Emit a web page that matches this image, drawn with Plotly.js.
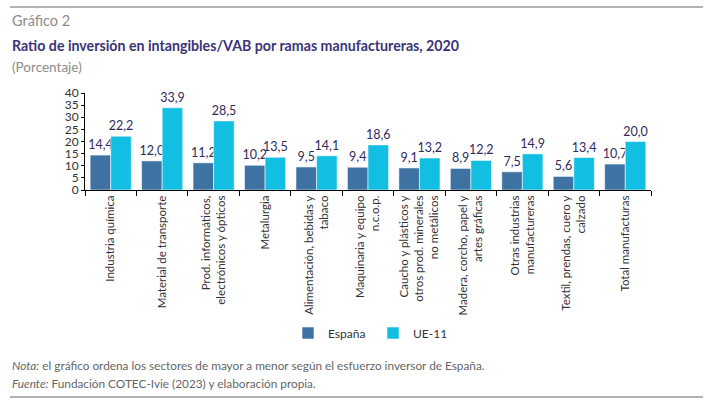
<!DOCTYPE html>
<html>
<head>
<meta charset="utf-8">
<script src="https://cdn.plot.ly/plotly-3.0.1.min.js"></script>
<style>
  html, body { margin: 0; padding: 0; background: #fff; }
  #graph { width: 710px; height: 403px; }
</style>
</head>
<body>
<div id="graph"></div>
<script>
const sectores = [
  'Industria química',
  'Material de transporte',
  'Prod. informáticos,<br>electrónicos y ópticos',
  'Metalurgia',
  'Alimentación, bebidas y<br>tabaco',
  'Maquinaria y equipo<br>n.c.o.p.',
  'Caucho y plásticos y<br>otros prod. minerales<br>no metálicos',
  'Madera, corcho, papel y<br>artes gráficas',
  'Otras industrias<br>manufactureras',
  'Textil, prendas, cuero y<br>calzado',
  'Total manufacturas'
];
const espana = [14.4, 12.0, 11.2, 10.2, 9.5, 9.4, 9.1, 8.9, 7.5, 5.6, 10.7];
const ue11 = [22.2, 33.9, 28.5, 13.5, 14.1, 18.6, 13.2, 12.2, 14.9, 13.4, 20.0];

const FONT = 'Lato, "Open Sans", sans-serif';

// plot area in pixels, used to place the page texts around it
const PL = 85, PR = 651, PT = 93, PB = 190;
const px = x => (x - PL) / (PR - PL);
const py = y => (PB - y) / (PB - PT);

function barTrace(name, values, color) {
  return {
    type: 'bar',
    name: name,
    x: sectores,
    y: values,
    marker: { color: color, line: { color: 'rgba(255,255,255,0.7)', width: 0.8 } },
    text: values.map(v => v.toFixed(1).replace('.', ',')),
    textposition: 'outside',
    constraintext: 'none',
    cliponaxis: false,
    textfont: { family: FONT, size: 12.5, color: '#2f2b5e' },
    hoverinfo: 'skip'
  };
}

const traces = [
  barTrace('España', espana, '#3d72a2'),
  barTrace('UE-11', ue11, '#13bee3')
];

const layout = {
  width: 710,
  height: 403,
  margin: { l: PL, r: 710 - PR, t: PT, b: 403 - PB, pad: 0 },
  paper_bgcolor: '#fff',
  plot_bgcolor: '#fff',
  font: { family: FONT, color: '#333' },
  barmode: 'group',
  bargap: 0.2,
  bargroupgap: 0,
  showlegend: true,
  legend: {
    orientation: 'h',
    x: px(288), xanchor: 'left',
    y: py(333), yanchor: 'middle',
    font: { size: 12, color: '#333' },
    itemwidth: 30,
    entrywidth: 40,
    entrywidthmode: 'pixels',
    tracegroupgap: 0
  },
  xaxis: {
    showline: true,
    linecolor: '#000',
    linewidth: 1,
    ticks: 'outside',
    tickson: 'boundaries',
    ticklen: 5,
    tickcolor: '#000',
    tickangle: -90,
    tickfont: { size: 11.5, color: '#333' },
    showgrid: false
  },
  yaxis: {
    range: [0, 40],
    dtick: 5,
    showline: true,
    linecolor: '#000',
    linewidth: 1,
    ticks: 'outside',
    ticklen: 3,
    tickcolor: '#000',
    tickfont: { size: 12, color: '#333' },
    showgrid: false,
    zeroline: false
  },
  shapes: [
    { type: 'line', xref: 'paper', yref: 'paper', x0: px(10), x1: px(703), y0: py(7), y1: py(7),
      line: { color: '#999', width: 1.5 } },
    { type: 'line', xref: 'paper', yref: 'paper', x0: px(10), x1: px(703), y0: py(397), y1: py(397),
      line: { color: '#999', width: 1.5 } }
  ],
  annotations: [
    { text: 'Gráfico 2', xref: 'paper', yref: 'paper', x: px(10), y: py(20),
      xanchor: 'left', yanchor: 'middle', showarrow: false,
      font: { family: FONT, size: 14.5, color: '#8c8c8c' } },
    { text: 'Ratio de inversión en intangibles/VAB por ramas manufactureras, 2020',
      xref: 'paper', yref: 'paper', x: px(10), y: py(45),
      xanchor: 'left', yanchor: 'middle', showarrow: false,
      font: { family: FONT, size: 14.2, weight: 700, color: '#3a3478' } },
    { text: '(Porcentaje)', xref: 'paper', yref: 'paper', x: px(10), y: py(67),
      xanchor: 'left', yanchor: 'middle', showarrow: false,
      font: { family: FONT, size: 13.5, color: '#8c8c8c' } },
    { text: '<i>Nota:</i> el gráfico ordena los sectores de mayor a menor según el esfuerzo inversor de España.',
      xref: 'paper', yref: 'paper', x: px(10), y: py(365),
      xanchor: 'left', yanchor: 'middle', showarrow: false,
      font: { family: FONT, size: 11.8, color: '#666' } },
    { text: '<i>Fuente:</i> Fundación COTEC-Ivie (2023) y elaboración propia.',
      xref: 'paper', yref: 'paper', x: px(10), y: py(383),
      xanchor: 'left', yanchor: 'middle', showarrow: false,
      font: { family: FONT, size: 11.8, color: '#666' } }
  ]
};

Plotly.newPlot('graph', traces, layout, { displayModeBar: false, staticPlot: true });
</script>
</body>
</html>
